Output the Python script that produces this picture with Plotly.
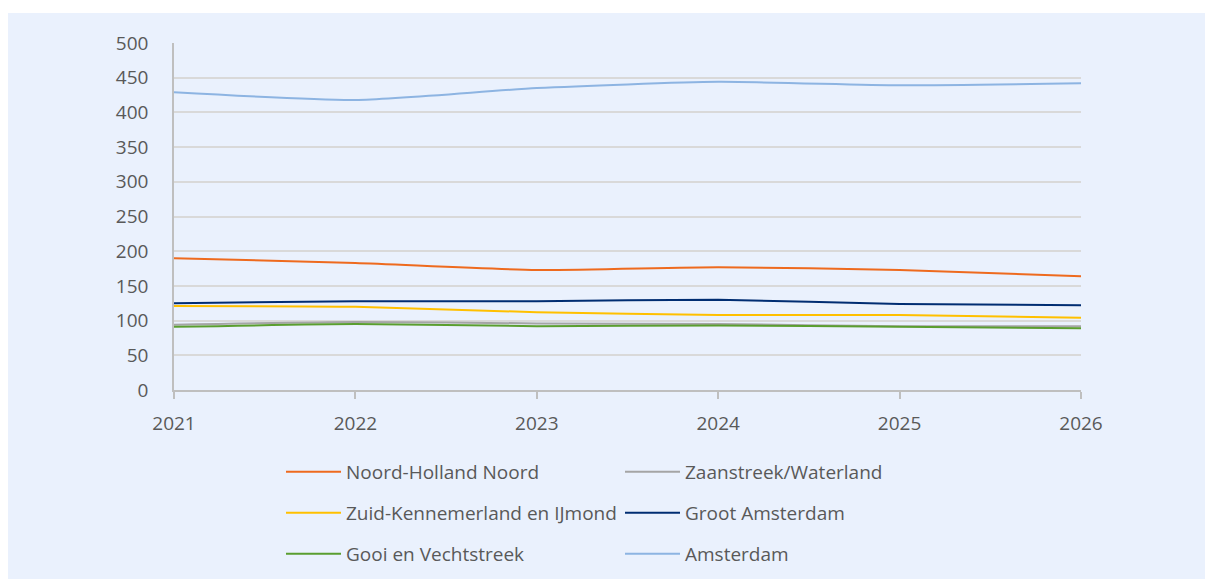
import plotly.graph_objects as go

years = [2021, 2022, 2023, 2024, 2025, 2026]

series_names = [
    "Noord-Holland Noord",
    "Zaanstreek/Waterland",
    "Zuid-Kennemerland en IJmond",
    "Groot Amsterdam",
    "Gooi en Vechtstreek",
    "Amsterdam",
]
noord_holland_noord = [190, 183, 173, 177, 173, 164]
zaanstreek_waterland = [94, 98, 96, 95, 92, 92]
zuid_kennemerland = [121, 120, 112, 108, 108, 104]
groot_amsterdam = [125, 128, 128, 130, 124, 122]
gooi_vechtstreek = [91, 95, 92, 93, 91, 89]
amsterdam = [429, 418, 435, 444, 439, 442]

series_values = [noord_holland_noord, zaanstreek_waterland, zuid_kennemerland,
                 groot_amsterdam, gooi_vechtstreek, amsterdam]
colors = ["#EE6A1E", "#A5A5A5", "#FFC000", "#002D72", "#5A9E2F", "#8DB4E2"]

y_ticks = [0, 50, 100, 150, 200, 250, 300, 350, 400, 450, 500]

# figure is drawn with the page's 8px body margin
W, H = 1205, 571
ml, mr, mt, mb = 166, 132, 35, 189
pw, ph = W - ml - mr, H - mt - mb

legend_ids = ["legend", "legend", "legend2", "legend2", "legend3", "legend3"]
row_centers = [464, 505, 546]

fig = go.Figure()
for name, vals, col, lg in zip(series_names, series_values, colors, legend_ids):
    fig.add_trace(go.Scatter(
        x=years, y=vals, name=name, mode="lines", legend=lg,
        line=dict(color=col, width=2, shape="spline", smoothing=0.6),
    ))

font_family = "Open Sans, sans-serif"
txt_col = "#595959"
bg = "#EAF1FD"


def legend_cfg(yc):
    return dict(
        orientation="h",
        x=273 / W, xref="container", xanchor="left",
        y=1 - yc / H, yref="container", yanchor="middle",
        entrywidth=269, entrywidthmode="pixels",
        itemwidth=55,
        font=dict(size=19, color=txt_col, family=font_family),
        bgcolor="rgba(0,0,0,0)",
        traceorder="normal",
    )


fig.update_layout(
    width=W, height=H,
    margin=dict(l=ml, r=mr, t=mt, b=mb, autoexpand=False),
    paper_bgcolor=bg,
    plot_bgcolor=bg,
    font=dict(family=font_family, color=txt_col, size=19),
    showlegend=True,
    legend=legend_cfg(row_centers[0]),
    legend2=legend_cfg(row_centers[1]),
    legend3=legend_cfg(row_centers[2]),
    xaxis=dict(
        range=[2021, 2026],
        tickmode="array", tickvals=years, ticktext=[str(y) for y in years],
        showgrid=False, zeroline=False,
        showline=True, linecolor="#BFBFBF", linewidth=1.5,
        ticks="outside", ticklen=7, tickcolor="#BFBFBF", tickwidth=1.5,
        tickfont=dict(size=19, color=txt_col),
        ticklabelstandoff=8,
    ),
    yaxis=dict(
        range=[0, 500],
        tickmode="array", tickvals=y_ticks,
        showgrid=True, gridcolor="#D9D9D9", gridwidth=1.5,
        zeroline=False,
        showline=True, linecolor="#BFBFBF", linewidth=1.5,
        ticks="", tickfont=dict(size=19, color=txt_col),
        ticklabelstandoff=20,
    ),
)

# white strip along the top edge of the panel
fig.add_shape(type="rect", xref="paper", yref="paper",
              x0=-(ml + 5) / pw, x1=1 + (mr + 5) / pw,
              y0=1 + (mt - 5) / ph, y1=1 + (mt + 5) / ph,
              fillcolor="white", line=dict(width=0), layer="above")

fig.write_html("out.html")
